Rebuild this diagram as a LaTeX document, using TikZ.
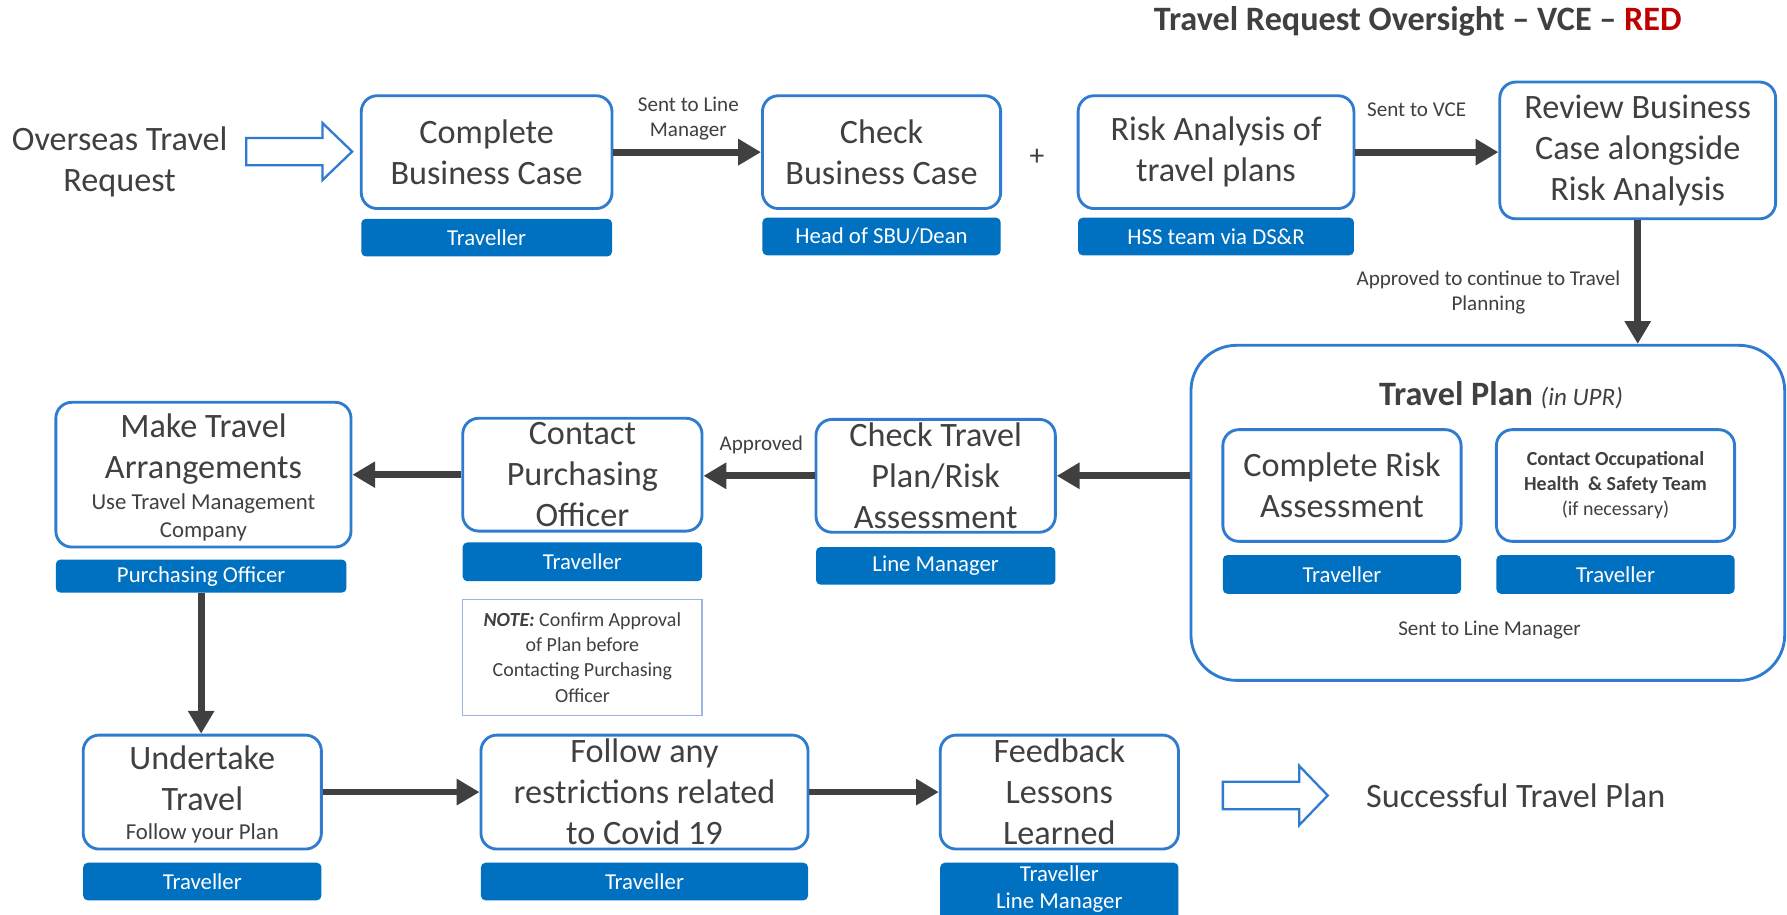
\documentclass[tikz,border=0pt]{standalone}
\usepackage{fontspec}
\setmainfont{Carlito}
\usetikzlibrary{arrows.meta}
\definecolor{bblue}{HTML}{2E7BCF}
\definecolor{barblue}{HTML}{0070C0}
\definecolor{txt}{HTML}{404040}
\definecolor{arr}{HTML}{404040}
\definecolor{noteblue}{HTML}{9DB5E0}
\definecolor{redt}{HTML}{C00000}
\begin{document}
\begin{tikzpicture}[x=1pt,y=-1pt,
  box/.style={draw=bblue, line width=2.5pt, rounded corners=14pt, fill=white, inner sep=0pt},
  bar/.style={fill=barblue, rounded corners=4pt, inner sep=0pt, text=white, align=center, font=\fontsize{20}{23}\selectfont},
  big/.style={text=txt, align=center, font=\fontsize{30}{36}\selectfont, inner sep=0pt},
  sub/.style={text=txt, align=center, font=\fontsize{20}{24}\selectfont, inner sep=0pt},
  small/.style={text=txt, align=center, font=\fontsize{18.5}{22}\selectfont, inner sep=0pt},
  flow/.style={draw=arr, line width=6pt, -{Triangle[length=20pt,width=22pt]}},
  hollow/.style={draw=bblue, line width=2pt, fill=white},
]
\useasboundingbox[fill=white] (0,0) rectangle (1568,802);

% title
\node[text=txt, font=\bfseries\fontsize{30}{34}\selectfont, inner sep=0pt] (title) at (1244,19) {Travel Request Oversight – VCE – \textcolor{redt}{RED}};

% row 1
\node[big] (start) at (105,142) {Overseas Travel\\Request};
\draw[hollow] (216,121) -- (283,121) -- (283,108) -- (309,133) -- (283,158) -- (283,145) -- (216,145) -- cycle;

\node[box, minimum width=220pt, minimum height=99pt] (cbc) at (427,133.5) {};
\node[big] (cbct) at (cbc) {Complete\\Business Case};
\node[bar, minimum width=220pt, minimum height=33pt] (cbcb) at (427,208.5) {Traveller};

\node[box, minimum width=209pt, minimum height=99pt] (chk) at (773.5,133.5) {};
\node[big] (chkt) at (chk) {Check\\Business Case};
\node[bar, minimum width=209pt, minimum height=33pt] (chkb) at (773.5,207.5) {Head of SBU/Dean};

\node[text=txt, font=\fontsize{26}{28}\selectfont, inner sep=0pt] (plus) at (910,138) {+};

\node[box, minimum width=242pt, minimum height=99pt] (risk) at (1067,133.5) {};
\node[big] (riskt) at (risk) {Risk Analysis of\\travel plans};
\node[bar, minimum width=242pt, minimum height=33pt] (riskb) at (1067,207.5) {HSS team via DS\&R};

\node[box, minimum width=242pt, minimum height=120pt] (rev) at (1437,132) {};
\node[big] (revt) at (rev) {Review Business\\Case alongside\\Risk Analysis};

\draw[flow] (cbc.east) -- (chk.west);
\node[small] (l1) at (604,104) {Sent to Line\\Manager};
\draw[flow] (risk.east) -- (risk.east -| rev.west);
\node[small] (l2) at (1243,96) {Sent to VCE};

% travel plan
\node[box, rounded corners=40pt, minimum width=521pt, minimum height=294pt] (tp) at (1305.5,450) {};
\node[text=txt, inner sep=0pt, font=\fontsize{30}{34}\selectfont] (tpt) at (1317,347) {\textbf{Travel Plan} {\itshape\fontsize{22}{26}\selectfont (in UPR)}};
\node[box, minimum width=209pt, minimum height=98pt] (cra) at (1177.5,426) {};
\node[big] (crat) at (cra) {Complete Risk\\Assessment};
\node[bar, minimum width=209pt, minimum height=34pt] (crab) at (1177.5,504) {Traveller};
\node[box, minimum width=209pt, minimum height=98pt] (coh) at (1417.5,426) {};
\node[text=txt, align=center, inner sep=0pt, font=\fontsize{17.5}{22}\selectfont] (coht) at (coh) {{\bfseries Contact Occupational}\\{\bfseries Health\ \ \& Safety Team}\\(if necessary)};
\node[bar, minimum width=209pt, minimum height=34pt] (cohb) at (1417.5,504) {Traveller};
\node[small] (l3) at (1307,553) {Sent to Line Manager};

\draw[flow] (rev.south) -- (rev.south |- tp.north);
\node[small] (l4) at (1306,257) {Approved to continue to Travel\\Planning};

% row 2
\node[box, minimum width=210pt, minimum height=99pt] (ct) at (821,417.5) {};
\node[big] (ctt) at (ct) {Check Travel\\Plan/Risk\\Assessment};
\node[bar, minimum width=210pt, minimum height=33pt] (ctb) at (821,496.5) {Line Manager};

\node[box, minimum width=210pt, minimum height=99pt] (cp) at (511,416.5) {};
\node[big] (cpt) at (cp) {Contact\\Purchasing\\Officer};
\node[bar, minimum width=210pt, minimum height=34pt] (cpb) at (511,493) {Traveller};

\node[draw=noteblue, line width=1.2pt, minimum width=210pt, minimum height=102pt, inner sep=0pt] (note) at (511,577) {};
\node[text=txt, align=center, inner sep=0pt, font=\fontsize{17.5}{22}\selectfont] (notet) at (note) {{\bfseries\itshape NOTE:} Confirm Approval\\of Plan before\\Contacting Purchasing\\Officer};

\node[box, minimum width=259pt, minimum height=127pt] (mt) at (178.5,416.5) {};
\node[big] (mtt) at (178.5,394) {Make Travel\\Arrangements};
\node[sub] (mts) at (178.5,454) {Use Travel Management\\Company};
\node[bar, minimum width=255pt, minimum height=29pt] (mtb) at (176.5,505.5) {Purchasing Officer};

\draw[flow] (tp.west |- ct.east) -- (ct.east);
\draw[flow] (ct.west) -- (ct.west -| cp.east);
\node[small] (l5) at (668,390) {Approved};
\draw[flow] (cp.west) -- (cp.west -| mt.east);

% row 3
\node[box, minimum width=209pt, minimum height=100pt] (ut) at (177.5,695) {};
\node[big] (utt) at (177.5,683) {Undertake\\Travel};
\node[sub] (uts) at (177.5,731) {Follow your Plan};
\node[bar, minimum width=209pt, minimum height=33pt] (utb) at (177.5,773.5) {Traveller};

\node[box, minimum width=287pt, minimum height=100pt] (fa) at (565.5,695) {};
\node[big] (fat) at (fa) {Follow any\\restrictions related\\to Covid 19};
\node[bar, minimum width=287pt, minimum height=33pt] (fab) at (565.5,773.5) {Traveller};

\node[box, minimum width=209pt, minimum height=100pt] (fb) at (929.5,695) {};
\node[big] (fbt) at (fb) {Feedback\\Lessons\\Learned};
\node[bar, minimum width=209pt, minimum height=50pt] (fbb) at (929.5,782) {};
\node[text=white, align=center, inner sep=0pt, font=\fontsize{20}{24}\selectfont] (fbbt) at (929.5,780) {Traveller\\Line Manager};

\draw[flow] (mtb.south) -- (mtb.south |- ut.north);
\draw[flow] (ut.east) -- (fa.west);
\draw[flow] (fa.east) -- (fb.west);

\draw[hollow] (1073,686) -- (1140,686) -- (1140,672) -- (1165,698) -- (1140,724) -- (1140,710) -- (1073,710) -- cycle;
\node[big] (endt) at (1330,698) {Successful Travel Plan};
\end{tikzpicture}
\end{document}
